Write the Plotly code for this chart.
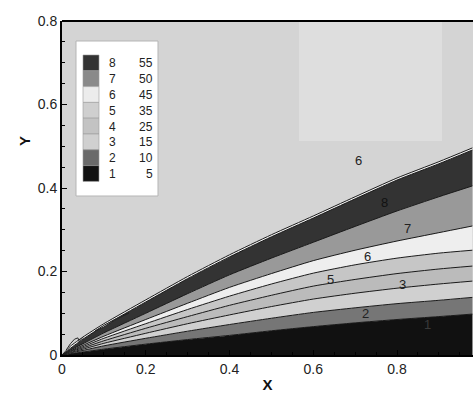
import plotly.graph_objects as go

# ---------------- data ----------------
x_pts = [0, 0.02, 0.05, 0.1, 0.2, 0.3, 0.4, 0.5, 0.6, 0.7, 0.8, 0.9, 0.98]

# upper edge of each flood band (contour boundaries), bottom to top
b1 = [0, 0.003, 0.007, 0.014, 0.026, 0.037, 0.047, 0.058, 0.068, 0.077, 0.085, 0.092, 0.098]
b2 = [0, 0.005, 0.011, 0.022, 0.040, 0.057, 0.073, 0.088, 0.102, 0.113, 0.123, 0.131, 0.138]
b3 = [0, 0.006, 0.014, 0.028, 0.052, 0.075, 0.096, 0.116, 0.134, 0.148, 0.160, 0.170, 0.177]
b4 = [0, 0.008, 0.017, 0.034, 0.064, 0.092, 0.119, 0.143, 0.165, 0.181, 0.195, 0.206, 0.213]
b5 = [0, 0.009, 0.020, 0.040, 0.075, 0.109, 0.141, 0.170, 0.196, 0.216, 0.232, 0.244, 0.251]
b6 = [0, 0.010, 0.023, 0.045, 0.085, 0.124, 0.162, 0.195, 0.226, 0.251, 0.273, 0.293, 0.309]
b7 = [0, 0.012, 0.027, 0.053, 0.100, 0.147, 0.192, 0.232, 0.270, 0.308, 0.345, 0.379, 0.405]
b8 = [0, 0.016, 0.038, 0.070, 0.127, 0.183, 0.235, 0.283, 0.328, 0.374, 0.419, 0.458, 0.491]
b9 = [0, 0.021, 0.043, 0.075, 0.132, 0.188, 0.240, 0.288, 0.333, 0.379, 0.424, 0.463, 0.496]

boundaries = [b1, b2, b3, b4, b5, b6, b7, b8, b9]
band_colors = ["#111111", "#767676", "#d0d0d0", "#bbbbbb", "#c6c6c6",
               "#eeeeee", "#999999", "#333333", "#f4f4f4"]

# small irregular contour pieces near the leading edge
tooth_x = [0.010, 0.020, 0.030, 0.038, 0.041, 0.052]
tooth_y = [0.012, 0.027, 0.038, 0.041, 0.032, 0.045]
sliver_x = [0.079, 0.100, 0.130, 0.160, 0.125, 0.100, 0.079]
sliver_y = [0.0575, 0.071, 0.087, 0.1005, 0.083, 0.067, 0.0575]

legend_levels = ["8", "7", "6", "5", "4", "3", "2", "1"]
legend_values = ["55", "50", "45", "35", "25", "15", "10", "5"]
legend_colors = ["#333333", "#8a8a8a", "#ececec", "#cfcfcf", "#c3c3c3",
                 "#d0d0d0", "#6a6a6a", "#111111"]

label_text = ["1", "2", "3", "5", "6", "7", "8", "6"]
label_x = [0.872, 0.724, 0.814, 0.642, 0.730, 0.824, 0.771, 0.707]
label_y = [0.072, 0.100, 0.168, 0.182, 0.235, 0.302, 0.366, 0.467]
label_colors = ["#3a3a3a", "#222222", "#222222", "#222222", "#222222",
                "#222222", "#111111", "#222222"]

x_ticks = [0, 0.2, 0.4, 0.6, 0.8]
y_ticks = [0, 0.2, 0.4, 0.6, 0.8]
tick_text = ["0", "0.2", "0.4", "0.6", "0.8"]

# ---------------- figure ----------------
W, H = 473, 394
L, R, T, B = 62, 0, 21, 39
XMAX = 0.9815
YMAX = 0.8
FONT = "Liberation Sans, Arial"


def px2x(px):
    return (px - L) / (W - L - R) * XMAX


def px2y(py):
    return (H - B - py) / (H - B - T) * YMAX


fig = go.Figure()
for i, (yb, col) in enumerate(zip(boundaries, band_colors)):
    fig.add_trace(go.Scatter(
        x=x_pts, y=yb, mode="lines",
        fill="tozeroy" if i == 0 else "tonexty",
        fillcolor=col,
        line=dict(color="#1a1a1a", width=1, shape="spline", smoothing=0.6),
        showlegend=False, hoverinfo="skip"))

fig.add_trace(go.Scatter(x=sliver_x, y=sliver_y, mode="lines", fill="toself",
                         fillcolor="#e6e6e6", line=dict(color="#222222", width=1),
                         showlegend=False, hoverinfo="skip"))
fig.add_trace(go.Scatter(x=tooth_x, y=tooth_y, mode="lines",
                         line=dict(color="#2a2a2a", width=1),
                         showlegend=False, hoverinfo="skip"))

shapes = []
# lighter rectangle patch in upper right
shapes.append(dict(type="rect", xref="x", yref="y",
                   x0=px2x(299), x1=px2x(442), y0=px2y(141), y1=YMAX,
                   fillcolor="#dedede", line=dict(width=0), layer="below"))
# top frame line
shapes.append(dict(type="line", xref="paper", yref="paper",
                   x0=0, x1=1, y0=1, y1=1, line=dict(color="black", width=2)))
# legend box
shapes.append(dict(type="rect", xref="x", yref="y",
                   x0=px2x(76), x1=px2x(158), y0=px2y(196), y1=px2y(41),
                   fillcolor="white", line=dict(color="#b5b5b5", width=1)))

annotations = []
row_h = 15.8
top0 = 55
for i, (lev, val, col) in enumerate(zip(legend_levels, legend_values, legend_colors)):
    t = top0 + i * row_h
    shapes.append(dict(type="rect", xref="x", yref="y",
                       x0=px2x(83), x1=px2x(99), y0=px2y(t + row_h), y1=px2y(t),
                       fillcolor=col, line=dict(color="#9a9a9a", width=0.6)))
    yc = px2y(t + row_h / 2 + 0.5)
    annotations.append(dict(x=px2x(112), y=yc, xref="x", yref="y", text=lev,
                            showarrow=False, xanchor="center", yanchor="middle",
                            font=dict(size=12, color="#222222", family=FONT)))
    annotations.append(dict(x=px2x(155), y=yc, xref="x", yref="y", text=val,
                            showarrow=False, xanchor="right", yanchor="middle",
                            font=dict(size=12, color="#222222", family=FONT)))

for t, xv, yv, c in zip(label_text, label_x, label_y, label_colors):
    annotations.append(dict(x=xv, y=yv, xref="x", yref="y", text=t, showarrow=False,
                            font=dict(size=13, color=c, family=FONT)))

# Y axis title (placed where it sits in the original)
annotations.append(dict(x=(24 - L) / (W - L - R), y=(H - B - 141) / (H - B - T),
                        xref="paper", yref="paper", text="<b>Y</b>", textangle=-90,
                        showarrow=False, xanchor="center", yanchor="middle",
                        font=dict(size=15, color="#111111", family=FONT)))

axis_common = dict(
    ticks="inside", ticklen=5, tickwidth=1, tickcolor="black",
    showline=True, linewidth=2, linecolor="black", mirror=False,
    showgrid=False, zeroline=False,
    tickfont=dict(size=14, color="#222222", family=FONT),
    minor=dict(ticks="inside", ticklen=3, dtick=0.05, tickcolor="black", showgrid=False),
)

fig.update_layout(
    width=W, height=H,
    margin=dict(l=L, r=R, t=T, b=B, pad=0),
    plot_bgcolor="#d4d4d4", paper_bgcolor="white",
    shapes=shapes, annotations=annotations,
    xaxis=dict(range=[0, XMAX], tickvals=x_ticks, ticktext=tick_text,
               title=dict(text="<b>X</b>", standoff=4,
                          font=dict(size=15, color="#111111", family=FONT)),
               **axis_common),
    yaxis=dict(range=[0, YMAX], tickvals=y_ticks, ticktext=tick_text,
               **axis_common),
)

fig.write_html("out.html")
